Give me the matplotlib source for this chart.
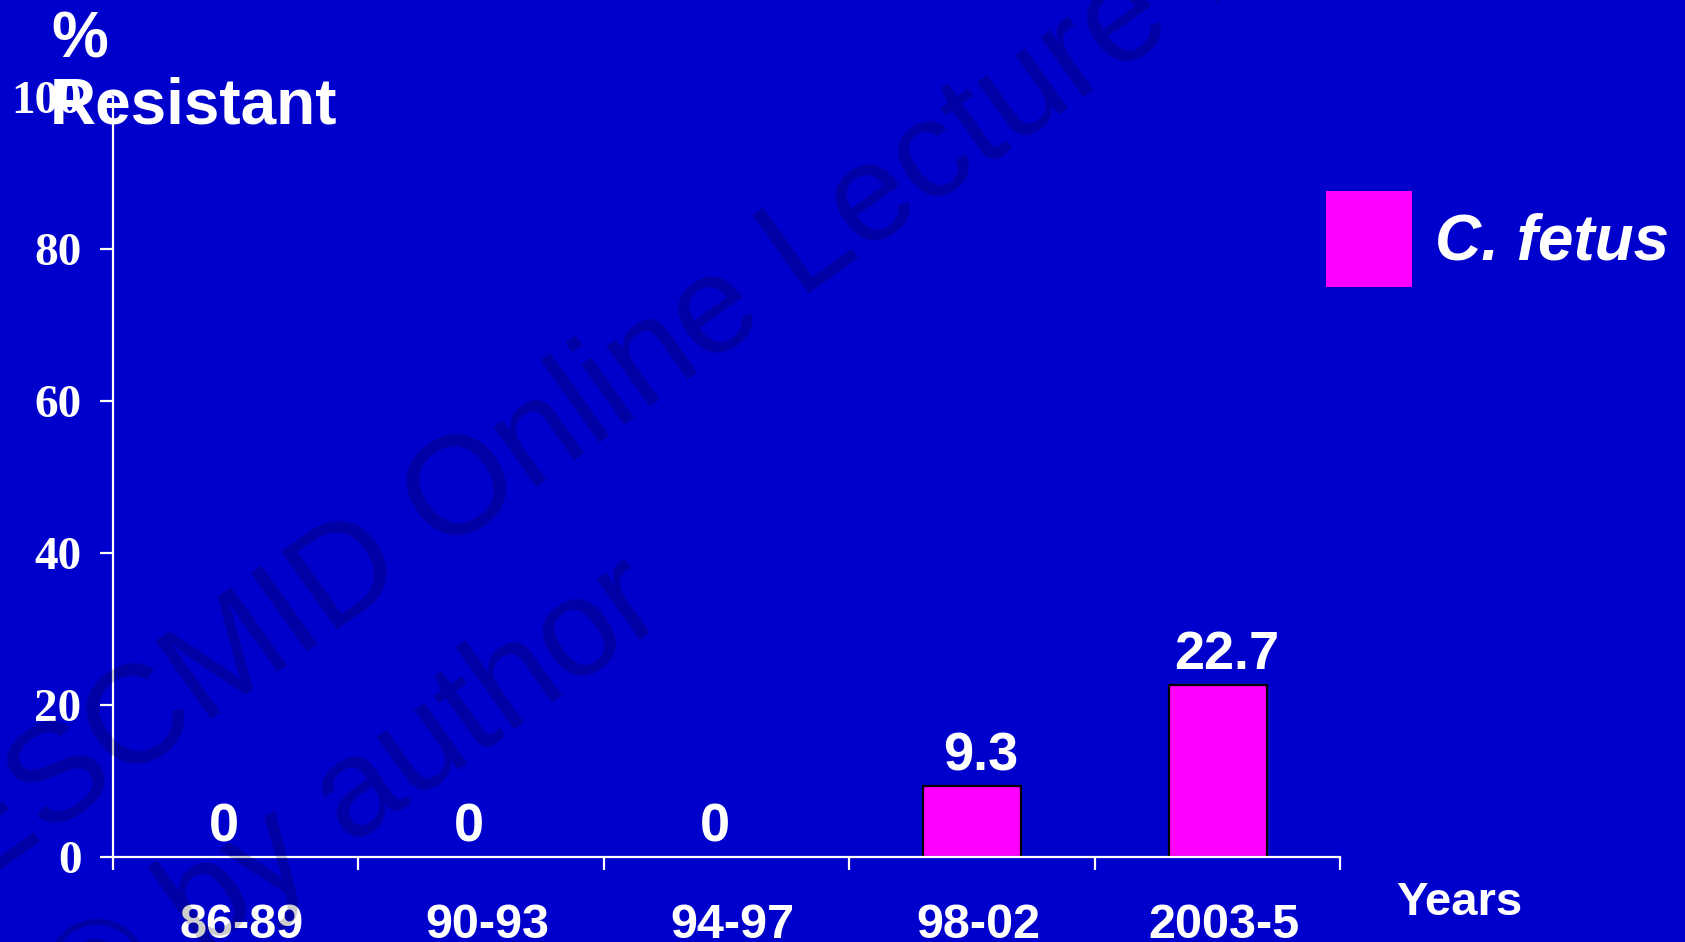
import matplotlib
matplotlib.use("Agg")
import matplotlib.pyplot as plt
from matplotlib.patches import Patch
from matplotlib.transforms import ScaledTranslation

# ---- data -------------------------------------------------------------
periods = ["86-89", "90-93", "94-97", "98-02", "2003-5"]
pct_resistant = [0, 0, 0, 9.3, 22.7]
series_name = "C. fetus"
y_ticks = [0, 20, 40, 60, 80, 100]

# ---- style ------------------------------------------------------------
BG = "#0000CC"
BAR = "#FF00FF"
WHITE = "white"
SANS = ["Liberation Sans", "DejaVu Sans"]
SERIF = ["Liberation Serif", "DejaVu Serif"]

fig = plt.figure(figsize=(16.85, 9.42), dpi=100, facecolor=BG)
ax = fig.add_axes([0.0668, 0.0902, 0.7287, 0.8068])
ax.set_facecolor(BG)
ax.patch.set_alpha(0)

x = list(range(len(periods)))
# bars sit under the axis spines so the baseline stays white
bars = ax.bar(x, pct_resistant, width=0.4, color=BAR, edgecolor="black",
              linewidth=1.6, label=series_name, zorder=2)
for b, v in zip(bars, pct_resistant):
    if v == 0:
        b.set_linewidth(0)

# value labels above each bar
for xi, v in zip(x, pct_resistant):
    dx = -8.5 if v == 0 else 6.5
    ax.annotate(f"{v:g}", xy=(xi, v), xytext=(dx, 11.5),
                textcoords="offset points", ha="center", va="baseline",
                fontsize=39, fontweight="bold", color=WHITE, family=SANS,
                zorder=4)

ax.set_xlim(-0.5, len(periods) - 0.5)
ax.set_ylim(0, 100)

# spines
for side in ("top", "right"):
    ax.spines[side].set_visible(False)
for side in ("left", "bottom"):
    ax.spines[side].set_color(WHITE)
    ax.spines[side].set_linewidth(1.6)
    ax.spines[side].set_zorder(3)

# y axis
ax.set_yticks(y_ticks)
ax.set_yticklabels([str(t) for t in y_ticks])
ax.tick_params(axis="y", direction="out", length=9.4, width=1.6,
               color=WHITE, labelcolor=WHITE, pad=13, labelsize=34)
for lab in ax.get_yticklabels():
    lab.set_family(SERIF)
    lab.set_fontweight("bold")

# x axis: labels at category centres, ticks at category boundaries
ax.set_xticks(x)
ax.set_xticklabels(periods)
ax.set_xticks([i - 0.5 for i in range(len(periods) + 1)], minor=True)
ax.tick_params(axis="x", which="major", length=0, pad=33,
               labelcolor=WHITE, labelsize=35)
ax.tick_params(axis="x", which="minor", direction="out", length=9.4,
               width=1.6, color=WHITE)
shift = ScaledTranslation(6 / 100, 0, fig.dpi_scale_trans)
for lab in ax.get_xticklabels():
    lab.set_family(SANS)
    lab.set_fontweight("bold")
    lab.set_transform(lab.get_transform() + shift)

# legend
leg = ax.legend(handles=[Patch(facecolor=BAR, edgecolor="none",
                               label=series_name)],
                loc="upper left", bbox_to_anchor=(1326 / 1685, 1 - 191 / 942),
                bbox_transform=fig.transFigure, frameon=False,
                borderpad=0, borderaxespad=0, handlelength=1.35,
                handleheight=1.93, handletextpad=0.35,
                prop={"family": SANS, "size": 46, "weight": "bold",
                      "style": "italic"})
for t in leg.get_texts():
    t.set_color(WHITE)

# axis titles
fig.text(51 / 1685, 1 - 57 / 942, "%", fontsize=46, fontweight="bold",
         color=WHITE, family=SANS, ha="left", va="baseline", zorder=5)
fig.text(50 / 1685, 1 - 124 / 942, "Resistant", fontsize=46,
         fontweight="bold", color=WHITE, family=SANS, ha="left",
         va="baseline", zorder=5)
fig.text(1396 / 1685, 1 - 915 / 942, "Years", fontsize=34,
         fontweight="bold", color=WHITE, family=SANS, ha="left",
         va="baseline", zorder=5)

# watermark
wm = dict(fontsize=100, color="black", alpha=0.2, family=SANS, rotation=35.5,
          rotation_mode="anchor", ha="left", va="baseline", zorder=10)
fig.text(-30 / 1685, 51 / 942, "ESCMID Online Lecture Library", **wm)
fig.text(84 / 1685, -94 / 942, "\u00a9 by author", **wm)

fig.savefig("out.png", dpi=100, facecolor=BG)
